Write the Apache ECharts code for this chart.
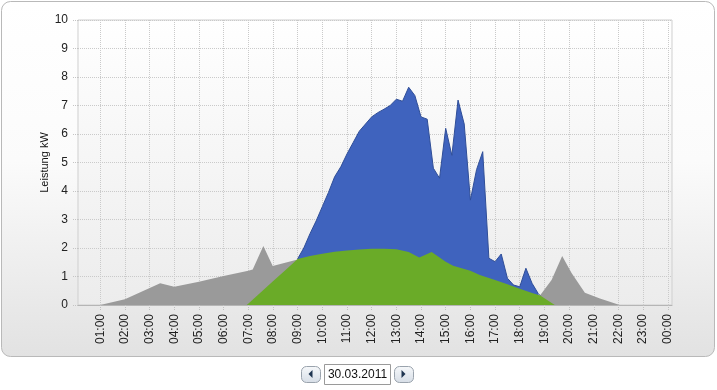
<!DOCTYPE html>
<html>
<head>
<meta charset="utf-8">
<script src="https://cdn.jsdelivr.net/npm/echarts@6/dist/echarts.min.js"></script>
<style>
html,body{margin:0;padding:0;background:#fff;}
#chart{width:717px;height:390px;}
</style>
</head>
<body>
<div id="chart"></div>
<script>
// ---- data (hours of day, kW) ----
const tickHours = [1,2,3,4,5,6,7,8,9,10,11,12,13,14,15,16,17,18,19,20,21,22,23,24];
const tickLabels = ['01:00','02:00','03:00','04:00','05:00','06:00','07:00','08:00','09:00','10:00','11:00','12:00',
                    '13:00','14:00','15:00','16:00','17:00','18:00','19:00','20:00','21:00','22:00','23:00','00:00'];

const grayTimes  = [0.1, 1.0, 2.0, 3.43, 4.0, 5.0, 6.0, 7.0, 7.18, 7.61, 7.99, 9.0, 10, 12, 14, 16, 17, 18, 18.82, 19.29, 19.72, 20.1, 20.64, 21.25, 22.05, 24.17];
const grayValues = [0,   0,   0.2, 0.76, 0.64,0.82,1.02,1.2, 1.25, 2.07, 1.37, 1.6, 1.5,1.4,1.2,0.9,0.7,0.5,0.33, 0.88,  1.72,  1.12, 0.43,  0.23,  0,     0];

const blueTimes  = [9.0, 9.25, 9.5, 9.75, 10.0, 10.25, 10.5, 10.75, 11.0, 11.25, 11.5, 11.75, 12.0, 12.25, 12.5, 12.75, 13.0, 13.25, 13.5, 13.75, 14.0, 14.25, 14.5, 14.75, 15.0, 15.25, 15.5, 15.75, 16.0, 16.25, 16.5, 16.75, 17.0, 17.25, 17.5, 17.75, 18.0, 18.25, 18.5, 18.75, 18.83];
const blueValues = [1.62,2.0, 2.5, 2.95, 3.45, 3.95,  4.5,  4.85,  5.3,  5.7,   6.1,  6.35,  6.6,  6.75,  6.87, 7.0,   7.22, 7.15,  7.64, 7.35,  6.6,  6.52,  4.8,  4.45,  6.2,  5.25,  7.19, 6.35,  3.68, 4.75,  5.38, 1.64,  1.52, 1.79,  0.94, 0.7,   0.64, 1.29,  0.76, 0.4,   0.33];

const greenTimes  = [6.94, 7.5, 8.0, 8.5, 9.0, 9.5, 10.0, 10.5, 11.0, 11.5, 12.0, 12.5, 13.0, 13.5, 13.93, 14.43, 15.0, 15.3, 16.0, 16.38, 17.0, 17.5, 18.0, 18.5, 18.83, 19.0, 19.42];
const greenValues = [0,    0.44,0.83,1.22,1.61,1.72,1.8, 1.87, 1.91, 1.95, 1.97, 1.97, 1.96, 1.86, 1.67,  1.86,  1.52, 1.38, 1.2,  1.05,  0.88, 0.73, 0.57, 0.42, 0.33,  0.24, 0];

const dateText = '30.03.2011';

function pairs(t, v){ return t.map((x,i)=>[x, v[i]]); }

const chart = echarts.init(document.getElementById('chart'), null, {renderer:'canvas'});
const FONT = 'Liberation Sans';

function button(x, y, dir){
  const w = 19, h = 16;
  const cx = x + w/2, cy = y + h/2;
  const pts = dir < 0 ? [[cx+2,cy-4],[cx+2,cy+4],[cx-2,cy]] : [[cx-2,cy-4],[cx-2,cy+4],[cx+2,cy]];
  return [
    {type:'rect', shape:{x:x+0.5,y:y+0.5,width:w,height:h,r:5},
     style:{fill:new echarts.graphic.LinearGradient(0,0,0,1,[{offset:0,color:'#f7f9fb'},{offset:1,color:'#d6dde6'}]),stroke:'#9aa3ad',lineWidth:1}},
    {type:'polygon', shape:{points:pts}, style:{fill:'#1f3550'}}
  ];
}

const option = {
  animation:false,
  backgroundColor:'#ffffff',
  graphic:[
    {type:'rect', z:-10, silent:true, shape:{x:1.5,y:1.5,width:713,height:355,r:9},
     style:{fill:new echarts.graphic.LinearGradient(0,0,0,1,[{offset:0,color:'#ffffff'},{offset:0.45,color:'#fbfbfb'},{offset:1,color:'#e2e2e2'}]),
            stroke:'#b9b9b9', lineWidth:1}},
    ...button(301, 366, -1),
    {type:'rect', shape:{x:324.5,y:364.5,width:66,height:20}, style:{fill:'#ffffff',stroke:'#9a9a9a',lineWidth:1}},
    {type:'text', style:{x:357.5,y:375,text:dateText,align:'center',verticalAlign:'middle',font:'12px '+FONT,fill:'#111'}},
    ...button(394, 366, 1)
  ],
  grid:{left:78, right:45, top:20, bottom:85, show:true, borderWidth:1, borderColor:'#cfcfcf',
        backgroundColor:new echarts.graphic.LinearGradient(0,0,0,1,[{offset:0,color:'#ffffff'},{offset:1,color:'#ececec'}])},
  xAxis:{
    type:'value', min:0.1, max:24.17,
    axisLine:{show:true, onZero:false, lineStyle:{color:'#b5b5b5', width:1}},
    axisTick:{show:true, customValues:tickHours, length:5, lineStyle:{color:'#c0c0c0', type:'dotted'}},
    axisLabel:{customValues:tickHours, rotate:90, margin:9, color:'#222', fontFamily:FONT, fontSize:12,
               formatter:(v)=>{ const i = tickHours.indexOf(Math.round(v)); return i>=0 ? tickLabels[i] : ''; }},
    splitLine:{show:true, lineStyle:{color:'#cacaca', type:'dotted', width:1}}
  },
  yAxis:{
    type:'value', min:0, max:10, interval:1,
    name:'Leistung kW', nameLocation:'middle', nameGap:28, nameRotate:90, nameMoveOverlap:false,
    nameTextStyle:{color:'#111', fontFamily:FONT, fontSize:11},
    axisLine:{show:false},
    axisTick:{show:true, length:6, lineStyle:{color:'#c4c4c4', type:'dotted'}},
    axisLabel:{margin:10, color:'#222', fontFamily:FONT, fontSize:12},
    splitLine:{show:true, lineStyle:{color:'#cacaca', type:'dotted', width:1}}
  },
  series:[
    {name:'Verbrauch', type:'line', data:pairs(grayTimes, grayValues), symbol:'none', smooth:false,
     lineStyle:{width:0}, areaStyle:{color:'#9a9a9a', opacity:1}, z:2},
    {name:'Erzeugung', type:'line', data:pairs(blueTimes, blueValues), symbol:'none', smooth:false,
     lineStyle:{width:1, color:'#2f4e98'}, areaStyle:{color:'#3f63be', opacity:1}, z:3},
    {name:'Eigenverbrauch', type:'line', data:pairs(greenTimes, greenValues), symbol:'none', smooth:false,
     lineStyle:{width:0}, areaStyle:{color:'#6aab28', opacity:1}, z:4}
  ]
};
chart.setOption(option);
</script>
</body>
</html>
